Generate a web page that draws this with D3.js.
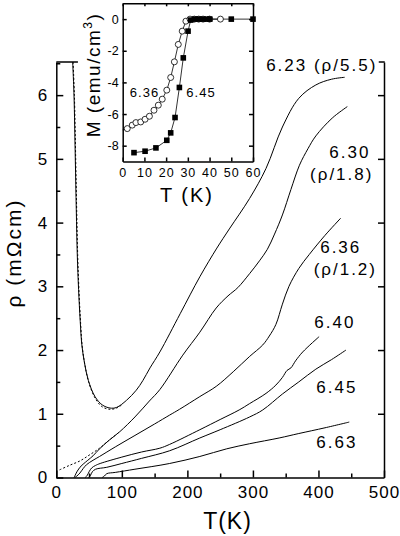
<!DOCTYPE html>
<html><head><meta charset="utf-8">
<script src="https://cdn.jsdelivr.net/npm/d3@7"></script>
<style>
body{margin:0;background:#fff;}
svg{display:block;font-family:"Liberation Sans",Arial,sans-serif;}
</style></head><body>
<svg id="c" width="400" height="536"></svg>
<script>
// ---------- data ----------
const xTicksMain = [0, 100, 200, 300, 400, 500];
const xMinorMain = [50, 150, 250, 350, 450];
const yTicksMain = [0, 1, 2, 3, 4, 5, 6];
const yMinorMain = [0.5, 1.5, 2.5, 3.5, 4.5, 5.5, 6.5];

// resistivity curves [T (K), rho (mOhm cm)]
const s623 = [[25,6.52],[27,6.0],[29,5.0],[30.5,4.2],[32,3.5],[34,2.95],[36.5,2.45],[39,2.08],[43,1.8],[49,1.52],[59,1.27],[70,1.14],[82,1.09],[92,1.1],[107,1.21],[122,1.37],[132,1.52],[143,1.72],[158,1.97],[189,2.57],[219,3.15],[245,3.6],[264,3.9],[295,4.38],[320,4.85],[345,5.5],[370,5.95],[396,6.16],[420,6.25],[440,6.28]];
const f623 = [[25.6,6.52],[27.6,6.0],[29.6,5.0],[31.1,4.2],[32.6,3.5],[34.6,2.93],[37.1,2.42],[39.6,2.05],[43.6,1.77],[49.6,1.49],[59.6,1.24],[70,1.11],[82,1.07],[92,1.09],[100,1.14]];
const s630 = [[27,0],[29,0.04],[32,0.1],[36,0.16],[41,0.21],[48,0.27],[56,0.34],[66,0.45],[80,0.58],[97,0.72],[120,0.95],[142,1.2],[158,1.38],[193,1.92],[219,2.28],[244,2.66],[262,2.85],[277,2.98],[295,3.2],[310,3.4],[322,3.58],[333,3.82],[345,4.12],[358,4.52],[371,4.9],[384,5.16],[396,5.36],[421,5.64],[444,5.82]];
const f630 = [[5,0.12],[20,0.19],[36,0.26],[50,0.35],[66,0.46],[80,0.58],[97,0.72]];
const s636 = [[28,0],[31,0.02],[36,0.07],[41,0.14],[46,0.2],[56,0.27],[66,0.33],[90,0.48],[120,0.66],[150,0.84],[173,0.98],[188,1.07],[219,1.27],[244,1.43],[270,1.66],[295,1.9],[315,2.08],[325,2.22],[335,2.4],[345,2.72],[355,3.0],[370,3.28],[386,3.5],[410,3.8],[434,4.07]];
const s640 = [[44,0],[47,0.03],[50,0.09],[54,0.15],[60,0.19],[67,0.22],[100,0.32],[130,0.4],[158,0.46],[173,0.52],[219,0.75],[250,0.91],[279,1.06],[295,1.16],[320,1.32],[335,1.45],[345,1.57],[352,1.68],[358,1.72],[365,1.83],[376,1.97],[401,2.21]];
const s645 = [[49,0],[52,0.03],[55,0.09],[60,0.13],[77,0.16],[100,0.22],[130,0.3],[173,0.42],[219,0.62],[250,0.75],[295,0.95],[315,1.06],[345,1.31],[370,1.5],[396,1.7],[420,1.85],[442,2.0]];
const s663 = [[70,0],[73,0.02],[77,0.06],[90,0.08],[120,0.13],[173,0.22],[219,0.33],[260,0.45],[295,0.53],[340,0.62],[370,0.69],[410,0.78],[447,0.87]];

const curveLabels = [
  {text:"6.23 (\u03c1/5.5)", T:405, r:6.38},
  {text:"6.30", T:448, r:5.02},
  {text:"(\u03c1/1.8)", T:435.5, r:4.67},
  {text:"6.36", T:434, r:3.53},
  {text:"(\u03c1/1.2)", T:441, r:3.17},
  {text:"6.40", T:425, r:2.35},
  {text:"6.45", T:428, r:1.33},
  {text:"6.63", T:428, r:0.46}
];

// inset magnetisation [T (K), M (emu/cm^3)]
const xTicksInset = [0, 10, 20, 30, 40, 50, 60];
const yTicksInset = [-8, -6, -4, -2, 0];
const m636 = [[2.1,-6.92],[4.4,-6.7],[6.1,-6.54],[8.3,-6.5],[10.3,-6.33],[12.3,-6.14],[14.4,-5.76],[16.4,-5.44],[18.2,-5.06],[20.3,-4.49],[22.1,-3.69],[23.8,-2.7],[25.6,-1.6],[27.4,-0.76],[29.1,-0.13],[31,0],[33,0],[35,0],[37,0],[40,0],[45,0]];
const m636Start = [0,-7.0];
const m645 = [[5.2,-8.44],[10.3,-8.35],[15.3,-8.14],[20.3,-7.66],[22.1,-7.19],[24.1,-6.22],[26.1,-4.32],[27.9,-2.45],[30.1,-0.76],[31.3,-0.06],[33.2,0],[35,0],[37,0],[38.9,0],[40.1,0],[50,0],[60,0]];

// ---------- drawing ----------
const svg = d3.select("#c");
const x = d3.scaleLinear().domain([0,500]).range([56.3,384]);
const y = d3.scaleLinear().domain([0,6.52]).range([477.5,62]);

const axStyle = g => {
  g.selectAll("path,line").attr("stroke","#000").attr("stroke-width",1.5);
  g.selectAll("text").attr("fill","#000").attr("font-family","'Liberation Sans',Arial,sans-serif");
};

// bottom axis
svg.append("g").attr("transform",`translate(0,${y(0)})`)
  .call(d3.axisBottom(x).tickValues(xTicksMain).tickSize(-7).tickSizeOuter(0).tickPadding(8).tickFormat(d=>String(d)))
  .call(axStyle).call(g=>g.selectAll("text").attr("font-size",17).attr("letter-spacing","1px"));
svg.append("g").attr("transform",`translate(0,${y(0)})`)
  .call(d3.axisBottom(x).tickValues(xMinorMain).tickSize(-4).tickFormat(""))
  .call(axStyle).call(g=>g.select(".domain").remove());
// left axis
svg.append("g").attr("transform",`translate(${x(0)},0)`)
  .call(d3.axisLeft(y).tickValues(yTicksMain).tickSize(-7).tickSizeOuter(0).tickPadding(9).tickFormat(d=>String(d)))
  .call(axStyle).call(g=>g.selectAll("text").attr("font-size",17));
svg.append("g").attr("transform",`translate(${x(0)},0)`)
  .call(d3.axisLeft(y).tickValues(yMinorMain).tickSize(-4).tickFormat(""))
  .call(axStyle).call(g=>g.select(".domain").remove());
// right axis
svg.append("g").attr("transform",`translate(${x(500)},0)`)
  .call(d3.axisRight(y).tickValues(yTicksMain.slice(1)).tickSize(-6).tickSizeOuter(0).tickFormat(""))
  .call(axStyle);
// top corner stubs
svg.append("line").attr("x1",x(0)).attr("x2",x(33)).attr("y1",y(6.52)).attr("y2",y(6.52)).attr("stroke","#000").attr("stroke-width",1.5);
svg.append("line").attr("x1",x(492)).attr("x2",x(500)+0.75).attr("y1",y(6.52)).attr("y2",y(6.52)).attr("stroke","#000").attr("stroke-width",1.5);

// axis titles
svg.append("text").attr("transform",`translate(21,253) rotate(-90)`).attr("text-anchor","middle")
  .attr("font-size",21).attr("letter-spacing","2px").text("\u03c1 (m\u03a9cm)");
svg.append("text").attr("x",227.5).attr("y",529).attr("text-anchor","middle")
  .attr("font-size",23).attr("letter-spacing","1px").text("T(K)");

// curves
const line = d3.line().x(d=>x(d[0])).y(d=>y(d[1])).curve(d3.curveCatmullRom.alpha(0.5));
[s623,s630,s636,s640,s645,s663].forEach(s=>{
  svg.append("path").attr("d",line(s)).attr("fill","none").attr("stroke","#000").attr("stroke-width",1);
});
[f623,f630].forEach(s=>{
  svg.append("path").attr("d",line(s)).attr("fill","none").attr("stroke","#000").attr("stroke-width",1).attr("stroke-dasharray","2,2");
});

// curve labels
curveLabels.forEach(l=>{
  svg.append("text").attr("x",x(l.T)).attr("y",y(l.r)).attr("text-anchor","middle")
    .attr("font-size",17).attr("letter-spacing","2px").text(l.text);
});

// ---------- inset ----------
const xi = d3.scaleLinear().domain([0,60]).range([122.7,253]);
const yi = d3.scaleLinear().domain([-9,1]).range([161.5,3.3]);
const gi = svg.append("g");
gi.append("rect").attr("x",xi(0)).attr("y",yi(1)).attr("width",xi(60)-xi(0)).attr("height",yi(-9)-yi(1)).attr("fill","#fff");
gi.append("g").attr("transform",`translate(0,${yi(-9)})`)
  .call(d3.axisBottom(xi).tickValues(xTicksInset).tickSize(-4).tickSizeOuter(0).tickPadding(6.5).tickFormat(d=>String(d)))
  .call(axStyle).call(g=>g.selectAll("text").attr("font-size",12.5).attr("letter-spacing","1px"));
gi.append("g").attr("transform",`translate(${xi(0)},0)`)
  .call(d3.axisLeft(yi).tickValues(yTicksInset).tickSize(-4).tickSizeOuter(0).tickPadding(4).tickFormat(d=>String(d)))
  .call(axStyle).call(g=>g.selectAll("text").attr("font-size",12.5));
gi.append("g").attr("transform",`translate(${xi(60)},0)`)
  .call(d3.axisRight(yi).tickValues(yTicksInset).tickSize(-4).tickSizeOuter(0).tickFormat(""))
  .call(axStyle);
gi.append("g").attr("transform",`translate(0,${yi(1)})`)
  .call(d3.axisTop(xi).tickValues(xTicksInset).tickSize(-3).tickSizeOuter(0).tickFormat(""))
  .call(axStyle);

const linI = d3.line().x(d=>xi(d[0])).y(d=>yi(d[1]));
gi.append("path").attr("d",linI([m636Start].concat(m636))).attr("fill","none").attr("stroke","#000").attr("stroke-width",0.8);
gi.append("path").attr("d",linI(m645)).attr("fill","none").attr("stroke","#000").attr("stroke-width",0.8);
gi.selectAll("circle.o").data(m636).join("circle").attr("class","o")
  .attr("cx",d=>xi(d[0])).attr("cy",d=>yi(d[1])).attr("r",3)
  .attr("fill","#fff").attr("stroke","#000").attr("stroke-width",0.8);
const sq = 5.6;
gi.selectAll("rect.s").data(m645).join("rect").attr("class","s")
  .attr("x",d=>xi(d[0])-sq/2).attr("y",d=>yi(d[1])-sq/2).attr("width",sq).attr("height",sq).attr("fill","#000");

gi.append("text").attr("x",xi(3.3)).attr("y",yi(-4.9)).attr("font-size",13).attr("letter-spacing","1px").text("6.36");
gi.append("text").attr("x",xi(29.3)).attr("y",yi(-4.9)).attr("font-size",13).attr("letter-spacing","1px").text("6.45");

const ml = gi.append("text").attr("transform",`translate(100,75) rotate(-90)`).attr("text-anchor","middle")
  .attr("font-size",19).attr("letter-spacing","1.5px");
ml.append("tspan").text("M (emu/cm");
ml.append("tspan").attr("font-size",12).attr("dy",-8).text("3");
ml.append("tspan").attr("dy",8).text(")");
gi.append("text").attr("x",187).attr("y",202).attr("text-anchor","middle")
  .attr("font-size",20).attr("letter-spacing","2px").text("T (K)");
</script>
</body></html>
